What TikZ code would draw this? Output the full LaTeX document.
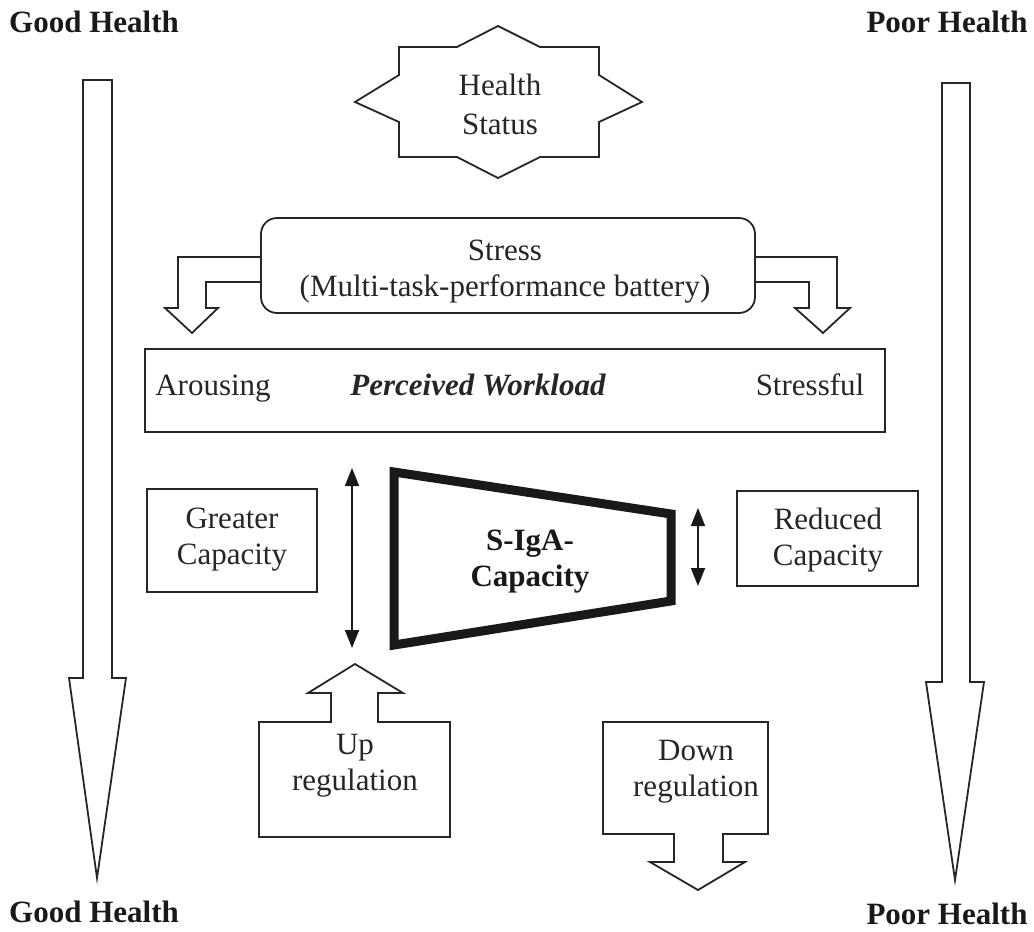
\documentclass[tikz,border=0pt]{standalone}
\usepackage{fontspec}
\setmainfont{Liberation Serif}
\usetikzlibrary{arrows.meta}
\tikzset{
  thin line/.style={draw=black!85, line width=0.9pt, line join=miter},
  txt/.style={font=\fontsize{15.5}{18}\selectfont, align=center, inner sep=0pt, text=black!85},
  btxt/.style={font=\fontsize{15.5}{18}\selectfont\bfseries, align=center, inner sep=0pt, text=black!90},
  dbl/.style={line width=0.9pt, draw=black!90, {Triangle[length=9pt,width=7pt]}-{Triangle[length=9pt,width=7pt]}},
}
\begin{document}
\begin{tikzpicture}[x=0.5pt,y=-0.5pt]
\useasboundingbox (0,0) rectangle (1034,932);

% corner labels
\node[btxt] (gh1) at (94,22) {Good Health};
\node[btxt] (gh2) at (94,912) {Good Health};
\node[btxt] (ph1) at (947,22) {Poor Health};
\node[btxt] (ph2) at (947,914) {Poor Health};

% big vertical arrows
\draw[thin line] (83,80) -- (112,80) -- (112,678) -- (126,678) -- (97,878) -- (69,678) -- (83,678) -- cycle;
\draw[thin line] (942,83) -- (970,83) -- (970,682) -- (984,682) -- (955,880) -- (926,682) -- (942,682) -- cycle;

% health status star
\draw[thin line] (399,47) -- (457,47) -- (498,26) -- (540,47) -- (599,47) -- (599,75) -- (642,102)
  -- (599,122) -- (599,157) -- (540,157) -- (498,178) -- (457,157) -- (399,157) -- (399,122)
  -- (355,102) -- (399,75) -- cycle;
\node[txt, font=\fontsize{15.5}{19.5}\selectfont] (hs) at (500,104) {Health\\Status};

% stress box
\draw[thin line, rounded corners=8pt] (261,218) rectangle (755,313);
\node[txt] (stress) at (505,272) {Stress\\(Multi-task-performance battery)};
\draw[thin line] (261,257) -- (178,257) -- (178,308) -- (165,308) -- (192,333) -- (218,308) -- (206,308) -- (206,282) -- (261,282);
\draw[thin line] (755,257) -- (837,257) -- (837,308) -- (850,308) -- (823,333) -- (795,308) -- (809,308) -- (809,282) -- (755,282);

% perceived workload box
\draw[thin line] (145,349) rectangle (885,432);
\node[txt, anchor=base] (arousing) at (213,395) {Arousing};
\node[txt, anchor=base, font=\fontsize{15.5}{18}\selectfont\bfseries\itshape] (pw) at (478,395) {Perceived Workload};
\node[txt, anchor=base] (stressful) at (810,395) {Stressful};

% capacity boxes
\draw[thin line] (147,489) rectangle (317,592);
\node[txt] (greater) at (232,540) {Greater\\Capacity};
\draw[thin line] (737,491) rectangle (918,586);
\node[txt] (reduced) at (828,540) {Reduced\\Capacity};

% trapezoid
\draw[line width=4.5pt, line join=miter, draw=black!90] (394,472) -- (671,514) -- (671,601) -- (394,645) -- cycle;
\node[btxt] (siga) at (530,562) {S-IgA-\\Capacity};

% double arrows
\coordinate (la1) at (352,468);
\coordinate (la2) at (352,648);
\draw[dbl] (la1) -- (la2);
\coordinate (ra1) at (698,508);
\coordinate (ra2) at (698,586);
\draw[dbl] (ra1) -- (ra2);

% up regulation
\draw[thin line] (259,837) -- (259,722) -- (331,722) -- (331,693) -- (308,693) -- (355,664) -- (403,693)
  -- (378,693) -- (378,722) -- (450,722) -- (450,837) -- cycle;
\node[txt] (up) at (355,766) {Up\\regulation};

% down regulation
\draw[thin line] (603,722) -- (768,722) -- (768,834) -- (723,834) -- (723,862) -- (745,862) -- (698,890)
  -- (650,862) -- (674,862) -- (674,834) -- (603,834) -- cycle;
\node[txt] (down) at (696,772) {Down\\regulation};
\end{tikzpicture}
\end{document}
